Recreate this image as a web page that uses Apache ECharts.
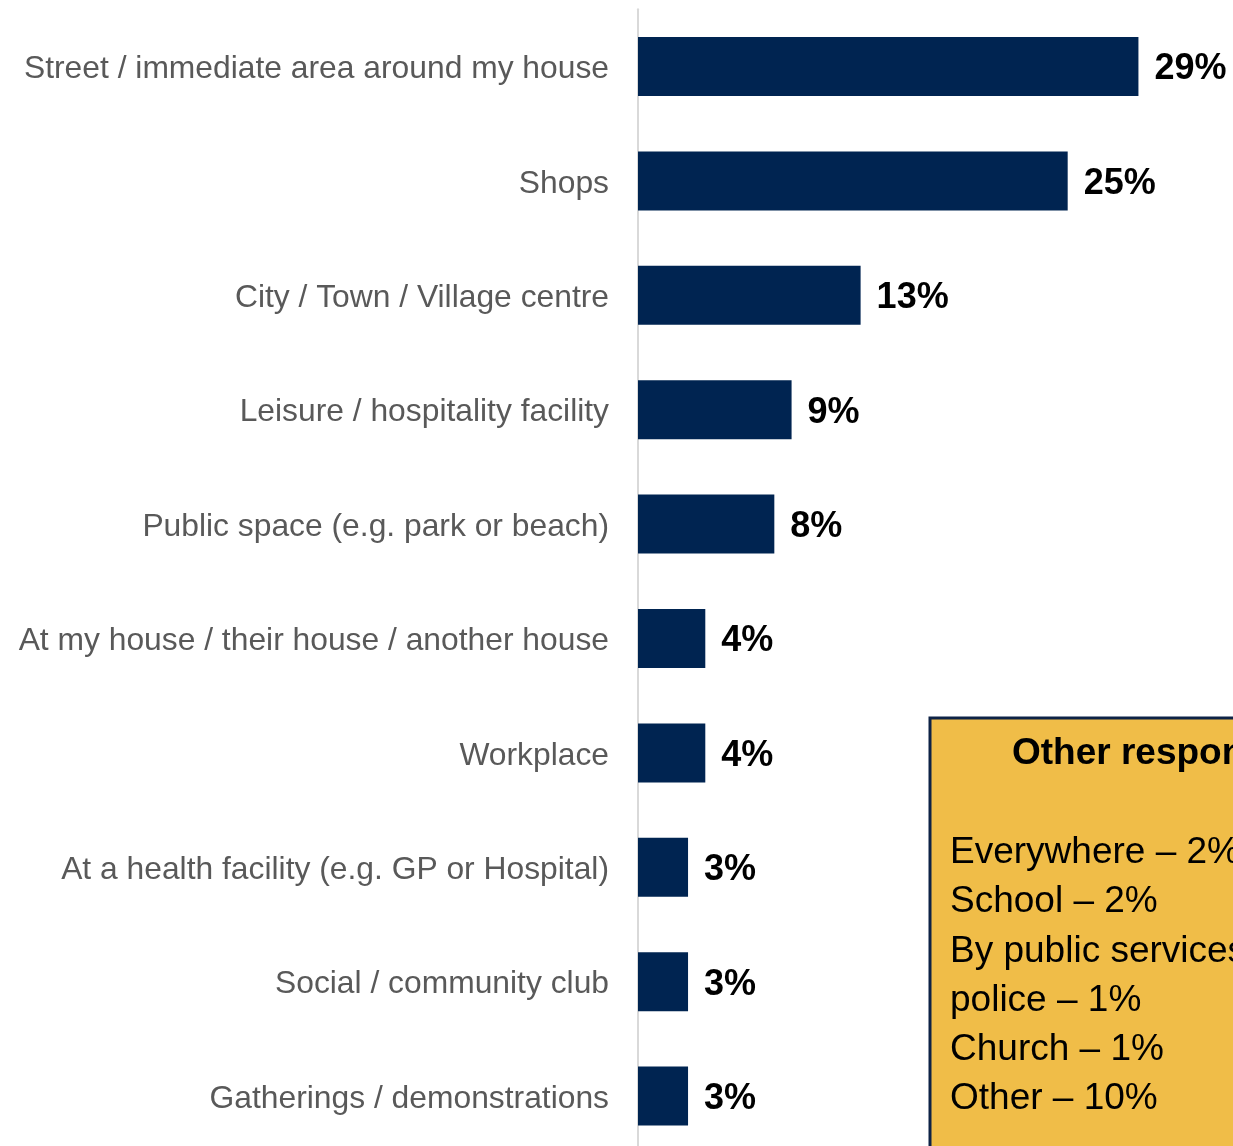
<!DOCTYPE html>
<html>
<head>
<meta charset="utf-8">
<style>
html,body{margin:0;padding:0;background:#fff;overflow:hidden;}
#chart{width:1233px;height:1170px;}
</style>
<script src="https://cdn.jsdelivr.net/npm/echarts@6/dist/echarts.min.js"></script>
</head>
<body>
<div id="chart"></div>
<script>
const categories = [
  "Street / immediate area around my house",
  "Shops",
  "City / Town / Village centre",
  "Leisure / hospitality facility",
  "Public space (e.g. park or beach)",
  "At my house / their house / another house",
  "Workplace",
  "At a health facility (e.g. GP or Hospital)",
  "Social / community club",
  "Gatherings / demonstrations"
];
const values = [29.0, 24.9, 12.9, 8.9, 7.9, 3.9, 3.9, 2.9, 2.9, 2.9];
const otherTitle = "Other responses";
const otherLines = [
  "Everywhere \u2013 2%",
  "School \u2013 2%",
  "By public services e.g.",
  "police \u2013 1%",
  "Church \u2013 1%",
  "Other \u2013 10%"
];

const FONT = "'Liberation Sans', Arial, sans-serif";
const chart = echarts.init(document.getElementById('chart'));

const graphics = [
  {
    type: 'rect',
    shape: { x: 930, y: 718, width: 460, height: 500 },
    style: { fill: '#f0bd48', stroke: '#0e2346', lineWidth: 3 },
    z: 10
  },
  {
    type: 'text',
    x: 1159, y: 754,
    style: {
      text: otherTitle, font: 'bold 37px ' + FONT, fill: '#000',
      textAlign: 'center', textVerticalAlign: 'middle'
    },
    z: 11
  }
];
otherLines.forEach((t, i) => {
  graphics.push({
    type: 'text',
    x: 950, y: 853 + i * 49.2,
    style: {
      text: t, font: '37px ' + FONT, fill: '#000',
      textAlign: 'left', textVerticalAlign: 'middle'
    },
    z: 11
  });
});

chart.setOption({
  animation: false,
  backgroundColor: '#ffffff',
  grid: { left: 638, right: 0, top: 9.3, height: 1144, containLabel: false },
  xAxis: {
    type: 'value', min: 0, max: 34.48,
    show: false
  },
  yAxis: {
    type: 'category', data: categories, inverse: true,
    axisLine: { show: true, lineStyle: { color: '#d9d9d9', width: 2 } },
    axisTick: { show: false },
    axisLabel: {
      margin: 29,
      formatter: v => '{a|' + v + '}',
      rich: { a: { color: '#595959', fontSize: 31.8, fontFamily: FONT, padding: [6, 0, 0, 0] } }
    },
    splitLine: { show: false }
  },
  series: [{
    type: 'bar',
    data: values,
    barWidth: 59,
    itemStyle: { color: '#002451' },
    label: {
      show: true, position: 'right', distance: 16,
      formatter: p => '{a|' + Math.round(p.value) + '%}',
      rich: { a: { color: '#000', fontSize: 36, fontWeight: 'bold', fontFamily: FONT, padding: [6, 0, 0, 0] } }
    }
  }],
  graphic: graphics
});
</script>
</body>
</html>
